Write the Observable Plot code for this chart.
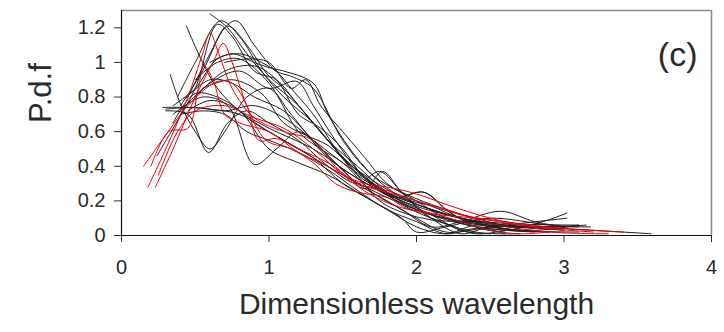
<!DOCTYPE html>
<html><head><meta charset="utf-8">
<script src="https://cdn.jsdelivr.net/npm/d3@7"></script>
<script src="https://cdn.jsdelivr.net/npm/@observablehq/plot@0.6"></script>
<style>body{margin:0;background:#fff}</style></head>
<body><div id="chart"></div>
<script>
const xTicks = [0, 1, 2, 3, 4];
const yTicks = [0, 0.2, 0.4, 0.6, 0.8, 1, 1.2];
const xLabel = "Dimensionless wavelength";
const yLabel = "P.d.f";
const panelLabel = "(c)";

// black curves: [x, y] points
const k1 = [[0.44,1.21],[0.55,1.0],[0.65,0.85],[0.8,0.72],[1.0,0.62],[1.3,0.5],[1.6,0.33],[1.9,0.2],[2.2,0.12],[2.6,0.06],[3.0,0.03]];
const k2 = [[0.60,1.28],[0.72,1.2],[0.85,1.05],[1.0,0.9],[1.2,0.75],[1.4,0.55],[1.6,0.4],[1.8,0.25],[2.0,0.15],[2.3,0.08],[2.7,0.03],[3.1,0.02]];
const k3 = [[0.33,0.93],[0.40,0.76],[0.5,0.6],[0.6,0.5],[0.7,0.6],[0.85,0.8],[1.0,0.85],[1.15,0.7],[1.4,0.45],[1.7,0.28],[2.0,0.15],[2.4,0.05],[2.8,0.02]];
const k4 = [[0.28,0.74],[0.45,0.74],[0.6,0.73],[0.8,0.7],[1.0,0.6],[1.2,0.5],[1.5,0.35],[1.8,0.22],[2.1,0.12],[2.5,0.06],[3.0,0.04],[3.59,0.01]];
const k5 = [[0.24,0.46],[0.35,0.62],[0.5,0.85],[0.65,1.22],[0.75,1.15],[0.9,0.95],[1.05,0.9],[1.2,0.75],[1.4,0.55],[1.6,0.35],[1.8,0.25],[2.0,0.18],[2.3,0.1],[2.6,0.04],[2.9,0.02]];
const k6 = [[0.3,0.72],[0.45,0.7],[0.59,0.48],[0.72,0.65],[0.85,0.72],[1.0,0.65],[1.2,0.55],[1.4,0.4],[1.6,0.3],[1.75,0.37],[1.9,0.25],[2.1,0.1],[2.3,0.01],[2.5,0.05],[2.8,0.04]];
const k7 = [[0.35,0.7],[0.55,0.8],[0.72,0.75],[0.9,0.41],[1.05,0.5],[1.2,0.6],[1.35,0.5],[1.6,0.3],[1.8,0.2],[2.0,0.1],[2.2,0.02],[2.5,0.05],[3.02,0.1]];
const k8 = [[0.4,0.75],[0.55,0.95],[0.7,1.2],[0.78,1.24],[0.9,1.1],[1.05,0.95],[1.15,0.92],[1.3,0.85],[1.5,0.55],[1.7,0.35],[1.9,0.25],[2.1,0.18],[2.4,0.1],[2.7,0.05],[3.02,0.13]];
const k9 = [[0.38,0.8],[0.5,1.0],[0.67,1.24],[0.8,1.15],[0.95,0.95],[1.1,0.8],[1.3,0.65],[1.5,0.45],[1.7,0.3],[1.85,0.22],[2.05,0.25],[2.25,0.12],[2.5,0.05],[2.8,0.03],[3.1,0.06]];
const k10 = [[0.35,0.75],[0.5,0.85],[0.65,1.02],[0.8,1.05],[0.95,1.0],[1.06,0.94],[1.15,0.85],[1.3,0.7],[1.5,0.45],[1.7,0.32],[1.9,0.22],[2.1,0.15],[2.4,0.08],[2.8,0.05],[3.15,0.06]];
const k11 = [[0.4,0.72],[0.6,0.88],[0.8,0.95],[1.0,0.85],[1.19,0.89],[1.3,0.75],[1.45,0.55],[1.6,0.38],[1.8,0.25],[2.0,0.18],[2.3,0.1],[2.6,0.06],[3.18,0.05]];
const k12 = [[0.42,0.78],[0.6,0.9],[0.75,0.88],[0.9,0.8],[1.1,0.72],[1.3,0.55],[1.5,0.38],[1.65,0.27],[1.77,0.37],[1.9,0.25],[2.1,0.1],[2.4,0.08],[2.7,0.04]];
const k13 = [[0.45,0.8],[0.6,1.05],[0.72,1.21],[0.85,1.1],[1.0,0.92],[1.1,0.85],[1.25,0.7],[1.45,0.5],[1.7,0.3],[1.9,0.2],[2.1,0.12],[2.3,0.03],[2.5,0.01]];
const k14 = [[0.5,0.8],[0.7,0.95],[0.9,0.98],[1.05,0.9],[1.2,0.7],[1.35,0.62],[1.5,0.5],[1.65,0.33],[1.85,0.22],[2.05,0.25],[2.2,0.15],[2.4,0.05],[2.6,0.02]];
const k15 = [[0.4,0.7],[0.55,0.72],[0.7,0.7],[0.85,0.6],[1.0,0.55],[1.2,0.48],[1.4,0.38],[1.6,0.26],[1.8,0.15],[2.0,0.08],[2.2,0.01],[2.4,0.04],[2.6,0.01]];
const k16 = [[0.5,0.9],[0.65,1.0],[0.8,1.02],[1.0,0.88],[1.2,0.6],[1.35,0.5],[1.5,0.42],[1.7,0.25],[1.9,0.15],[2.1,0.05],[2.3,0.08],[2.57,0.14],[2.8,0.08],[3.0,0.05]];
const k17 = [[0.55,0.85],[0.75,0.9],[0.95,0.82],[1.1,0.65],[1.25,0.58],[1.4,0.52],[1.55,0.4],[1.75,0.2],[1.95,0.12],[2.15,0.08],[2.4,0.01],[2.6,0.03]];
const k18 = [[0.35,0.65],[0.5,0.82],[0.7,0.78],[0.9,0.65],[1.1,0.55],[1.3,0.45],[1.5,0.3],[1.7,0.2],[1.9,0.1],[2.0,0.02],[2.2,0.05],[2.5,0.1],[2.9,0.06],[3.1,0.05]];
const k19 = [[0.6,1.0],[0.75,1.05],[0.9,1.0],[1.0,0.97],[1.1,0.95],[1.3,0.88],[1.4,0.7],[1.55,0.5],[1.7,0.35],[1.9,0.22],[2.1,0.17],[2.3,0.1],[2.6,0.07],[3.1,0.06]];
const k20 = [[0.45,0.72],[0.6,0.78],[0.8,0.72],[1.0,0.5],[1.2,0.42],[1.4,0.35],[1.6,0.25],[1.8,0.15],[2.0,0.05],[2.2,0.01],[2.4,0.06],[2.7,0.04]];
const k21 = [[0.7,1.0],[0.85,1.02],[1.0,1.0],[1.15,0.85],[1.25,0.9],[1.35,0.75],[1.5,0.6],[1.65,0.45],[1.8,0.3],[2.0,0.2],[2.2,0.1],[2.5,0.04],[2.9,0.02]];
const k22 = [[0.3,0.73],[0.5,0.74],[0.7,0.72],[0.9,0.75],[1.1,0.68],[1.3,0.55],[1.5,0.42],[1.7,0.3],[1.9,0.18],[2.1,0.1],[2.4,0.02],[2.7,0.01]];

// red curves
const r1 = [[0.15,0.40],[0.3,0.58],[0.45,0.75],[0.65,0.89],[0.75,0.88],[0.85,0.75],[0.93,0.55],[1.05,0.56],[1.2,0.5],[1.4,0.42],[1.6,0.3],[1.8,0.26],[2.0,0.2],[2.3,0.12],[2.6,0.08],[3.0,0.04],[3.4,0.02]];
const r2 = [[0.18,0.28],[0.3,0.5],[0.45,0.8],[0.55,1.05],[0.6,1.17],[0.66,1.05],[0.75,0.85],[0.9,0.68],[1.1,0.6],[1.3,0.55],[1.45,0.4],[1.6,0.3],[1.8,0.25],[2.0,0.2],[2.2,0.15],[2.5,0.07],[2.9,0.02],[3.3,0.01]];
const r3 = [[0.23,0.28],[0.35,0.5],[0.5,0.8],[0.62,1.0],[0.69,1.11],[0.75,1.0],[0.85,0.75],[0.98,0.55],[1.15,0.5],[1.3,0.42],[1.45,0.3],[1.6,0.25],[1.8,0.22],[1.95,0.15],[2.15,0.12],[2.4,0.1],[2.7,0.06],[3.0,0.03]];
const r4 = [[0.2,0.4],[0.32,0.6],[0.45,0.62],[0.52,0.85],[0.56,0.98],[0.62,0.9],[0.7,0.7],[0.8,0.65],[1.0,0.6],[1.2,0.48],[1.35,0.42],[1.5,0.35],[1.65,0.3],[1.8,0.28],[2.0,0.24],[2.2,0.18],[2.5,0.1],[2.8,0.05],[3.2,0.02]];
const r5 = [[0.25,0.35],[0.38,0.6],[0.5,0.72],[0.7,0.75],[0.9,0.68],[1.1,0.62],[1.3,0.5],[1.5,0.35],[1.7,0.23],[1.9,0.16],[2.1,0.13],[2.3,0.08],[2.5,0.03],[2.7,0.01],[2.9,0.02]];

const blackCurves = [k1,k2,k3,k4,k5,k6,k7,k8,k9,k10,k11,k12,k13,k14,k15,k16,k17,k18,k19,k20,k21,k22];
const redCurves = [r1,r2,r3,r4,r5];
const toRows = (curves, tag) => curves.flatMap((c, i) => c.map(([x, y]) => ({x, y, id: tag + i})));
const blackRows = toRows(blackCurves, "k");
const redRows = toRows(redCurves, "r");

const chart = Plot.plot({
  width: 724, height: 332,
  marginLeft: 121, marginRight: 13, marginTop: 10, marginBottom: 97,
  style: {fontFamily: "'Liberation Sans', Arial, sans-serif", color: "#2a2a2a", background: "#fff"},
  x: {domain: [0, 4]},
  y: {domain: [0, 1.3]},
  marks: [
    Plot.ruleY([1.3], {stroke: "#888", strokeWidth: 1.5}),
    Plot.ruleX([4], {stroke: "#888", strokeWidth: 1.5}),
    Plot.line(blackRows, {x: "x", y: "y", z: "id", stroke: "#1e1e1e", strokeWidth: 1, curve: "catmull-rom", clip: true}),
    Plot.line(redRows, {x: "x", y: "y", z: "id", stroke: "#e8000b", strokeWidth: 1, curve: "catmull-rom", clip: true}),
    Plot.ruleX([0], {stroke: "#111", strokeWidth: 1.2}),
    Plot.ruleY([0], {stroke: "#111", strokeWidth: 1.2}),
    Plot.axisX({ticks: xTicks, tickSize: 7, tickPadding: 17, fontSize: 20, label: null, tickFormat: d => String(d)}),
    Plot.axisY({ticks: yTicks, tickSize: 7, tickPadding: 9, fontSize: 20, label: null, tickFormat: d => String(d)}),
    Plot.text([panelLabel], {frameAnchor: "top-right", dx: -14, dy: 31, fontSize: 34, textAnchor: "end", fill: "#2a2a2a"}),
    Plot.text([xLabel], {frameAnchor: "bottom", dy: 78, fontSize: 30, fill: "#2a2a2a"}),
    Plot.text([yLabel], {frameAnchor: "left", dx: -80, rotate: -90, fontSize: 31, fill: "#2a2a2a"})
  ]
});
document.getElementById("chart").append(chart);
</script>
</body></html>
